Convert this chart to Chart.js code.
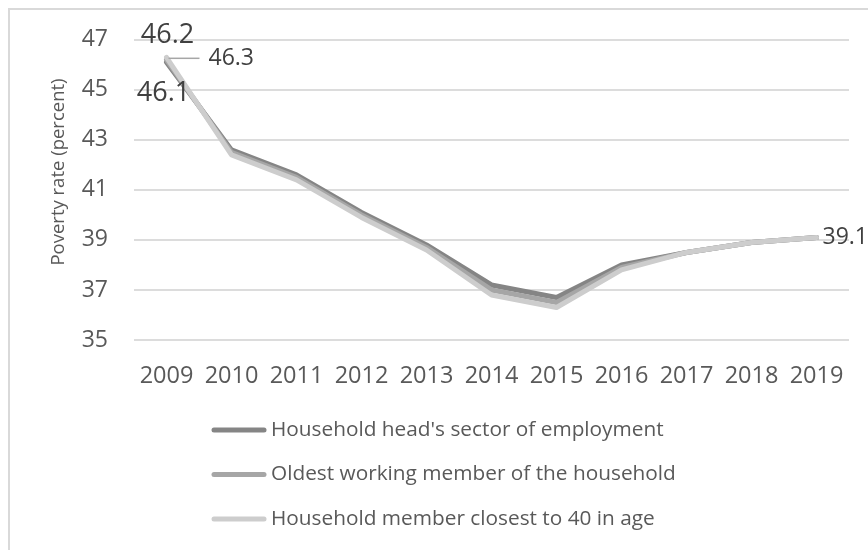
<!DOCTYPE html>
<html>
<head>
<meta charset="utf-8">
<script src="https://cdn.jsdelivr.net/npm/chart.js@4.4.1/dist/chart.umd.min.js"></script>
<style>
  html, body { margin: 0; padding: 0; background: #fff; overflow: hidden; }
  #frame { position: absolute; left: 8px; top: 8px; width: 900px; height: 600px; border: 2px solid #d9d9d9; }
  #wrap { position: absolute; left: 0; top: 0; width: 868px; height: 550px; }
</style>
</head>
<body>
<div id="frame"></div>
<div id="wrap"><canvas id="povertyChart" width="868" height="550"></canvas></div>
<script>
// Poverty rate by household classification method, 2009-2019
const years = ['2009', '2010', '2011', '2012', '2013', '2014', '2015', '2016', '2017', '2018', '2019'];
const headSector = [46.1, 42.6, 41.6, 40.1, 38.8, 37.2, 36.7, 38.0, 38.5, 38.9, 39.1];
const oldestWorker = [46.2, 42.5, 41.5, 40.0, 38.7, 37.0, 36.5, 37.9, 38.5, 38.9, 39.1];
const closestTo40 = [46.3, 42.4, 41.4, 39.9, 38.6, 36.8, 36.3, 37.8, 38.5, 38.9, 39.1];
const seriesNames = [
  "Household head's sector of employment",
  'Oldest working member of the household',
  'Household member closest to 40 in age'
];
const yTicks = [35, 37, 39, 41, 43, 45, 47];
const yTitle = 'Poverty rate (percent)';

const FONT = "'Open Sans', sans-serif";
const TEXT = '#595959';
const lineColors = ['#858585', '#a6a6a6', '#cdcdcd'];

// which points carry a value label: [datasetIndex, pointIndex, style]
const valueLabels = [
  { ds: 0, i: 0, size: 27, align: 'center', dx: -3, dy: 31 },
  { ds: 1, i: 0, size: 27, align: 'center', dx: 1, dy: -25 },
  { ds: 2, i: 0, size: 23, align: 'left', dx: 42, dy: 1, leader: true },
  { ds: 2, i: 10, size: 23, align: 'left', dx: 6, dy: 0 }
];

const valueLabelPlugin = {
  id: 'valueLabels',
  afterDatasetsDraw(chart) {
    const ctx = chart.ctx;
    ctx.save();
    valueLabels.forEach(l => {
      const pt = chart.getDatasetMeta(l.ds).data[l.i];
      const v = chart.data.datasets[l.ds].data[l.i];
      const x = pt.x + l.dx;
      const y = pt.y + l.dy;
      if (l.leader) {
        ctx.strokeStyle = '#a6a6a6';
        ctx.lineWidth = 1.5;
        ctx.beginPath();
        ctx.moveTo(pt.x + 2, y);
        ctx.lineTo(x - 9, y);
        ctx.stroke();
      }
      ctx.font = l.size + 'px ' + FONT;
      ctx.fillStyle = '#404040';
      ctx.textAlign = l.align;
      ctx.textBaseline = 'middle';
      ctx.fillText(v.toFixed(1), x, y);
    });
    ctx.restore();
  }
};

// y-axis title and vertical legend below the plot
const decorPlugin = {
  id: 'decor',
  afterDraw(chart) {
    const ctx = chart.ctx;
    ctx.save();
    ctx.translate(59, 172);
    ctx.rotate(-Math.PI / 2);
    ctx.font = '18.5px ' + FONT;
    ctx.fillStyle = TEXT;
    ctx.textAlign = 'center';
    ctx.textBaseline = 'middle';
    ctx.fillText(yTitle, 0, 0);
    ctx.restore();

    ctx.save();
    ctx.font = '20.8px ' + FONT;
    ctx.textBaseline = 'middle';
    ctx.lineCap = 'round';
    chart.data.datasets.forEach((ds, k) => {
      const y = 430 + k * 44.5;
      ctx.strokeStyle = ds.borderColor;
      ctx.lineWidth = 5;
      ctx.beginPath();
      ctx.moveTo(214, y);
      ctx.lineTo(264, y);
      ctx.stroke();
      ctx.fillStyle = TEXT;
      ctx.fillText(ds.label, 271, y);
    });
    ctx.restore();
  }
};

const seriesData = [headSector, oldestWorker, closestTo40];

new Chart(document.getElementById('povertyChart'), {
  type: 'line',
  data: {
    labels: years,
    datasets: seriesData.map((d, k) => ({
      label: seriesNames[k],
      data: d,
      borderColor: lineColors[k],
      backgroundColor: lineColors[k],
      borderWidth: 5,
      pointRadius: 0,
      tension: 0,
      borderJoinStyle: 'round',
      borderCapStyle: 'round',
      order: 3 - k
    }))
  },
  options: {
    responsive: false,
    devicePixelRatio: 1,
    animation: false,
    layout: { padding: { left: 9, right: 19, top: 38, bottom: 160 } },
    plugins: {
      legend: { display: false },
      tooltip: { enabled: false }
    },
    scales: {
      x: {
        offset: true,
        grid: { display: false },
        border: { display: false },
        ticks: { color: TEXT, font: { family: FONT, size: 23.5 }, padding: 14, maxRotation: 0, autoSkip: false },
        afterFit(scale) { scale.height = 50; }
      },
      y: {
        min: yTicks[0],
        max: yTicks[yTicks.length - 1],
        afterBuildTicks(scale) { scale.ticks = yTicks.map(v => ({ value: v })); },
        grid: { color: '#dcdcdc', lineWidth: 2, drawTicks: false },
        border: { display: false },
        ticks: { color: TEXT, font: { family: FONT, size: 23 }, padding: 26 },
        afterFit(scale) { scale.width = 125; }
      }
    }
  },
  plugins: [valueLabelPlugin, decorPlugin]
});
</script>
</body>
</html>
